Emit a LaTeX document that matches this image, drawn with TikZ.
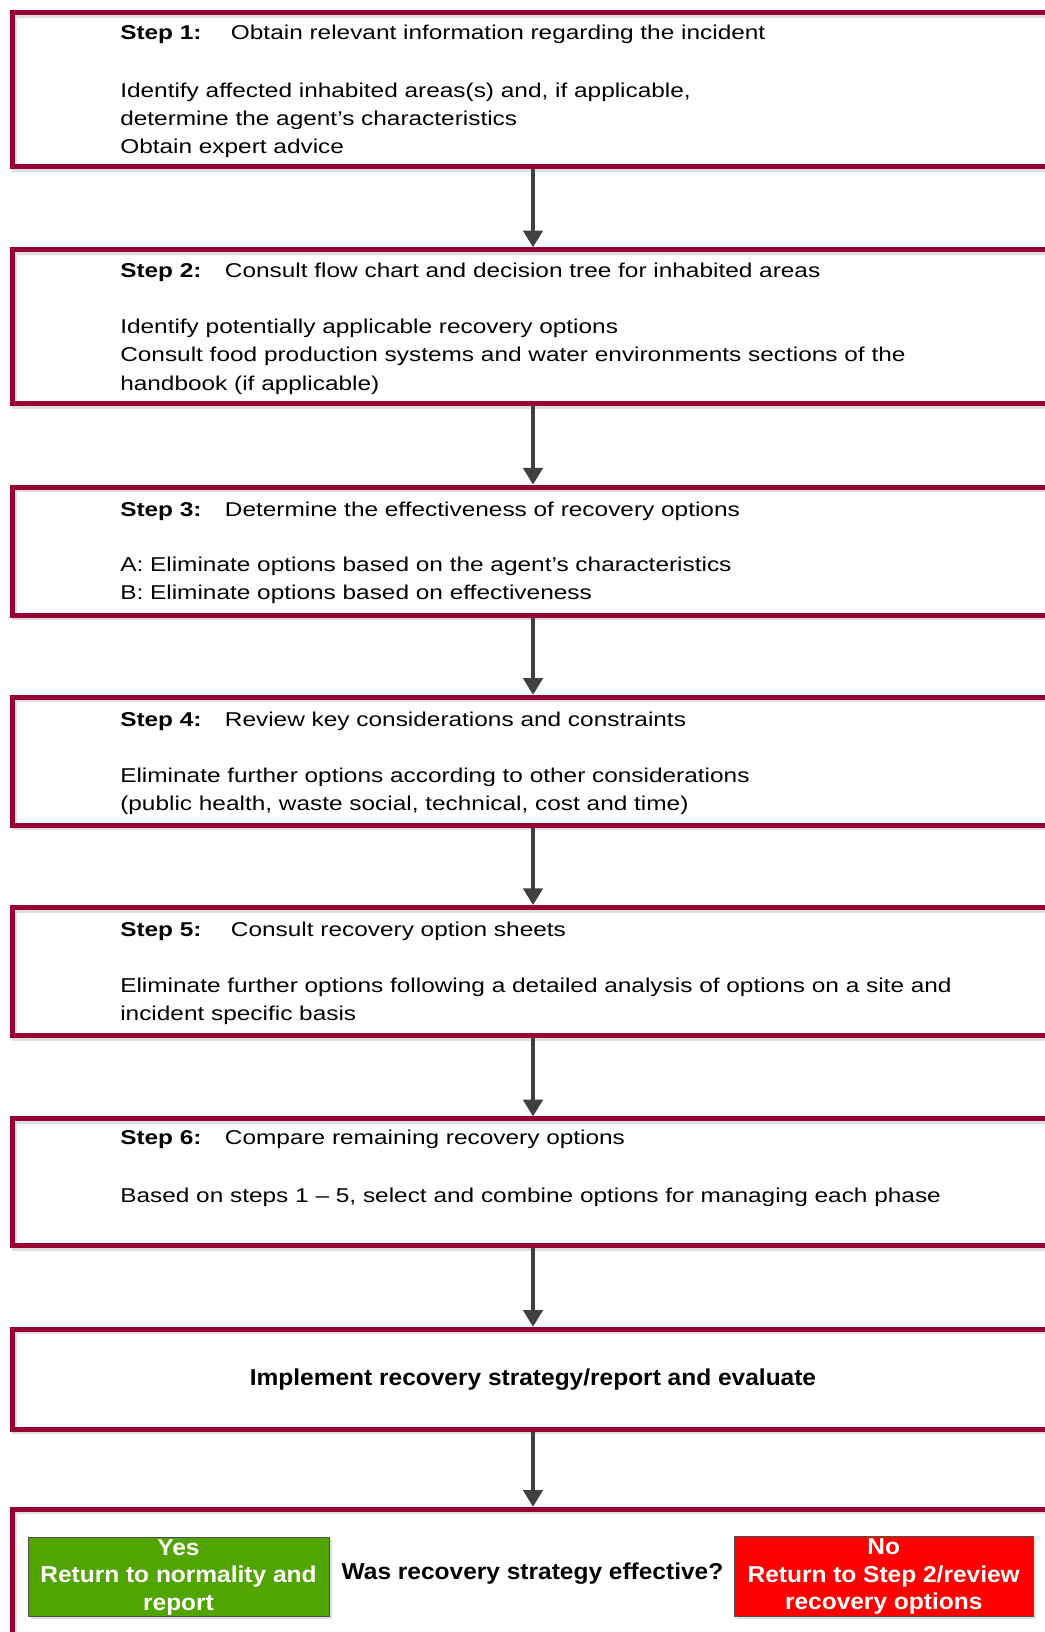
\documentclass[tikz,border=0pt]{standalone}
\usepackage{fontspec}
\setmainfont{Liberation Sans}
\newfontfamily\bodyfont{Liberation Sans}[FakeStretch=1.22]
\newfontfamily\bigfont{Liberation Sans}[FakeStretch=1.065]
\usetikzlibrary{arrows.meta}
\definecolor{frame}{RGB}{153,0,51}
\definecolor{arrowgray}{RGB}{64,64,64}
\definecolor{okgreen}{RGB}{82,165,0}
\definecolor{nored}{RGB}{255,0,0}
\definecolor{shadowgray}{RGB}{222,222,222}
\definecolor{choiceborder}{RGB}{80,80,80}
\newcommand{\steplabel}[2]{\makebox[#1][l]{\textbf{#2}}}
\newcommand{\textlines}[1]{\vtop{\baselineskip=21.2pt\halign{##\hfil\cr#1\crcr}}}
\tikzset{
  stagebox/.style={draw=frame, line width=3.75pt, minimum width=781.5pt, inner sep=0pt,
    preaction={draw=shadowgray, line width=3.75pt, transform canvas={shift={(1.9pt,-1.9pt)}}}},
  flowarrow/.style={draw=arrowgray, line width=2.5pt, -{Triangle[width=14.5pt,length=12.5pt]}},
  steptext/.style={anchor=base west, inner sep=0pt, font={\bodyfont\fontsize{15pt}{21.2pt}\selectfont}},
  bigtext/.style={font={\bigfont\bfseries\fontsize{17.25pt}{20.6pt}\selectfont}},
  choice/.style={bigtext, draw=choiceborder, line width=0.75pt, text=white, align=center, inner sep=0pt,
    preaction={fill=shadowgray, transform canvas={shift={(2pt,-2pt)}}}}
}
\begin{document}
\begin{tikzpicture}[x=0.75pt, y=-0.75pt]
\path[use as bounding box] (0,0) rectangle (1045,1632);
\clip (0,0) rectangle (1045,1632);

% boxes
\node[stagebox, minimum height=115.3pt] (b1) at (533,89.65) {};
\node[stagebox, minimum height=115.5pt] (b2) at (533,326.8) {};
\node[stagebox, minimum height=96pt] (b3) at (533,551.1) {};
\node[stagebox, minimum height=96pt] (b4) at (533,761.35) {};
\node[stagebox, minimum height=96pt] (b5) at (533,971.6) {};
\node[stagebox, minimum height=95.2pt] (b6) at (533,1182.35) {};
\node[stagebox, bigtext, minimum height=75pt] (b7) at (533,1379.3) {Implement recovery strategy/report and evaluate};
\node[stagebox, minimum height=143pt] (b8) at (533,1604.65) {};

% arrows
\draw[flowarrow] (b1.south) -- (b2.north);
\draw[flowarrow] (b2.south) -- (b3.north);
\draw[flowarrow] (b3.south) -- (b4.north);
\draw[flowarrow] (b4.south) -- (b5.north);
\draw[flowarrow] (b5.south) -- (b6.north);
\draw[flowarrow] (b6.south) -- (b7.north);
\draw[flowarrow] (b7.south) -- (b8.north);

% step 1
\node[steptext] (h1) at (120,39.5) {\steplabel{83pt}{Step 1:}Obtain relevant information regarding the incident};
\node[steptext] (t1) at (120,97) {\textlines{Identify affected inhabited areas(s) and, if applicable,\cr determine the agent’s characteristics\cr Obtain expert advice}};
% step 2
\node[steptext] (h2) at (120,277.6) {\steplabel{78.5pt}{Step 2:}Consult flow chart and decision tree for inhabited areas};
\node[steptext] (t2) at (120,333.5) {\textlines{Identify potentially applicable recovery options\cr Consult food production systems and water environments sections of the\cr handbook (if applicable)}};
% step 3
\node[steptext] (h3) at (120,516) {\steplabel{78.5pt}{Step 3:}Determine the effectiveness of recovery options};
\node[steptext] (t3) at (120,571) {\textlines{A: Eliminate options based on the agent’s characteristics\cr B: Eliminate options based on effectiveness}};
% step 4
\node[steptext] (h4) at (120,726) {\steplabel{78.5pt}{Step 4:}Review key considerations and constraints};
\node[steptext] (t4) at (120,782.4) {\textlines{Eliminate further options according to other considerations\cr (public health, waste social, technical, cost and time)}};
% step 5
\node[steptext] (h5) at (120,936.4) {\steplabel{83pt}{Step 5:}Consult recovery option sheets};
\node[steptext] (t5) at (120,992.6) {\textlines{Eliminate further options following a detailed analysis of options on a site and\cr incident specific basis}};
% step 6
\node[steptext] (h6) at (120,1144.5) {\steplabel{78.5pt}{Step 6:}Compare remaining recovery options};
\node[steptext] (t6) at (120,1202.5) {Based on steps 1 – 5, select and combine options for managing each phase};

% decision
\node[bigtext] (q) at (532.5,1573.5) {Was recovery strategy effective?};
\node[choice, fill=okgreen, minimum width=225.75pt, minimum height=58.8pt] (yes) at (178.5,1577) {Yes\\Return to normality and\\report};
\node[choice, fill=nored, minimum width=224.5pt, minimum height=60pt] (no) at (883.7,1576.5) {No\\Return to Step 2/review\\recovery options};
\end{tikzpicture}
\end{document}
